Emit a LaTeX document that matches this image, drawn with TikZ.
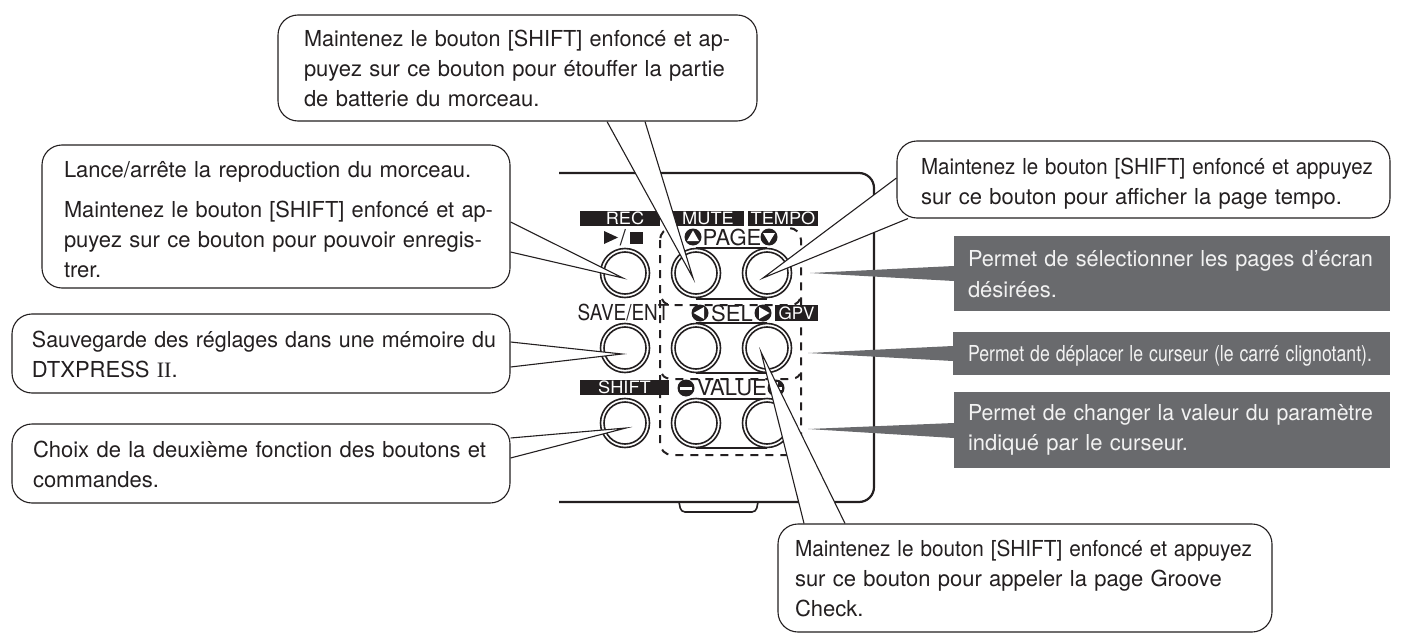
\documentclass[tikz,border=0pt]{standalone}
\usepackage{fontspec}
\usepackage{graphicx}
\setmainfont{TeX Gyre Heros}
\newfontfamily\serifII{Liberation Serif}
\definecolor{pgray}{HTML}{696A6D}
\definecolor{ptxt}{HTML}{F2F2F2}
\definecolor{ink}{HTML}{231F20}
\newsavebox\fitbox
\def\pd{20pt}
\newcommand\fl[2]{\hspace*{\pd}\sbox\fitbox{#2}\ifdim\wd\fitbox>#1pt\resizebox{#1pt}{\height}{\usebox\fitbox}\else\makebox[#1pt][s]{#2}\fi}
\newcommand\nl[1]{\hspace*{\pd}#1}
\newcommand\dn[1]{\rule{0pt}{#1pt}}
\newcommand\wide[1]{\scalebox{1.07}[1]{#1}}
\pgfdeclarelayer{back}
\pgfdeclarelayer{mid}
\pgfsetlayers{back,mid,main}
\tikzset{
  callout/.style 2 args={draw=ink,line width=1.1pt,fill=white,rounded corners=20pt,text=ink,
    text width=#1pt,minimum height=#2pt,inner xsep=0pt,inner ysep=0pt,align=left,
    font=\fontsize{22}{30}\selectfont},
  graybox/.style 2 args={fill=pgray,text=ptxt,text width=#1pt,minimum height=#2pt,
    inner xsep=0pt,inner ysep=0pt,align=left,font=\fontsize{22}{30}\selectfont},
  ptr/.style={draw=ink,line width=1.1pt,fill=white,line join=miter,miter limit=20},
  gptr/.style={fill=pgray},
  keybtn/.style={circle,draw=ink,fill=white,line width=1.6pt,minimum size=49pt,inner sep=0pt},
  keyin/.style={circle,draw=ink,line width=1.6pt,minimum size=42pt,inner sep=0pt},
  bar/.style={fill=ink,text=white,inner sep=0pt,font=\fontsize{17}{17}\selectfont},
  lab/.style={text=ink,inner sep=0pt,font=\fontsize{22}{22}\selectfont},
  dashln/.style={draw=ink,line width=2pt,dash pattern=on 8pt off 7pt},
  cbtn/.style={circle,fill=ink,minimum size=17pt,inner sep=0pt},
  panel/.style={draw=ink,line width=2.2pt}
}
\begin{document}
\begin{tikzpicture}[x=1pt,y=-1pt]
\useasboundingbox (0,0) rectangle (1409,634);
\begin{pgfonlayer}{back}
% panel
\draw[panel,rounded corners=15pt] (559,173) -- (874,173) -- (874,502) -- (559,502);
\draw[line width=1.6pt,draw=ink,rounded corners=4pt] (679,502) -- (681,512) -- (756,512) -- (758,502);
% dashed groups
\draw[dashln,rounded corners=12pt] (660,228) rectangle (801,455);
\draw[dashln] (662,299) .. controls (664,304) and (668,305) .. (674,305) -- (788,305) .. controls (794,305) and (798,304) .. (800,299);
\draw[dashln] (662,374) .. controls (664,378) and (668,379) .. (674,379) -- (788,379) .. controls (794,379) and (798,378) .. (800,374);
% links between buttons
\foreach \yy in {248,299,323,373,399,448} \draw[line width=1.4pt,draw=ink] (696,\yy) -- (767,\yy);
% buttons
\foreach \nm/\xx/\yy in {ba/625/273,bb/696/273,bc/767/273,bd/625/348,be/696/348,bf/767/348,bg/625/423,bh/696/423,bi/767/423}{
  \node[keybtn] (\nm) at (\xx,\yy) {};
  \node[keyin] (\nm i) at (\xx,\yy) {};
}
% labels
\node[bar,minimum width=80pt,minimum height=15pt] (lrec) at (620,218.5) {\hspace*{10pt}\wide{REC}};
\node[bar,minimum width=79pt,minimum height=15pt] (lmute) at (704.5,218.5) {\hspace*{7pt}\wide{MUTE}};
\node[bar,minimum width=70pt,minimum height=15pt] (ltempo) at (783,218.5) {\wide{TEMPO}};
\node[fill=white,minimum width=112pt,minimum height=20pt,inner sep=0pt] (lpagebg) at (730,236.5) {};
\node[lab] (lpage) at (732,237) {PAGE};
\node[cbtn] (cpu) at (693,237) {};
\node[cbtn] (cpd) at (769,237) {};
\fill[white] (693,230.5) -- (699,241) -- (687,241) -- cycle;
\fill[white] (769,243) -- (775,233) -- (763,233) -- cycle;
\fill[ink] (604,231) -- (618,237.5) -- (604,244) -- cycle;
\node[lab] (lslash) at (623,237.5) {/};
\fill[ink] (630,232) rectangle (643,244);
\node[lab] (lsave) at (623.5,313) {\scalebox{0.86}[1]{SAVE/ENT}};
\node[lab] (lsel) at (732,313) {SEL};
\node[cbtn] (csl) at (700,313) {};
\node[cbtn] (csr) at (763,313) {};
\fill[white] (693.5,313) -- (704,307) -- (704,319) -- cycle;
\fill[white] (769.5,313) -- (759,307) -- (759,319) -- cycle;
\node[bar,minimum width=43pt,minimum height=16pt] (lgpv) at (796.5,313) {GPV};
\node[bar,minimum width=89pt,minimum height=15pt] (lshift) at (624.5,387.5) {\wide{SHIFT}};
\node[lab] (lvalue) at (732,388) {VALUE};
\node[cbtn] (cvm) at (686,388) {};
\node[cbtn] (cvp) at (776,388) {};
\fill[white] (680,386.5) rectangle (692,389.5);
\fill[white] (770,386.5) rectangle (782,389.5);
\fill[white] (774.5,382) rectangle (777.5,394);
\end{pgfonlayer}
% callouts
\def\pd{26pt}
\node[callout={479}{106}] (ctop) at (517.5,68) {\fl{426}{Maintenez le bouton [SHIFT] enfoncé et ap-}\\ \fl{426}{puyez sur ce bouton pour étouffer la partie}\\ \nl{de batterie du morceau.}};
\def\pd{22pt}
\node[callout={468}{143}] (cplay) at (276,216.5) {\dn{22}\nl{Lance/arrête la reproduction du morceau.}\\[10pt] \fl{429}{Maintenez le bouton [SHIFT] enfoncé et ap-}\\ \fl{429}{puyez sur ce bouton pour pouvoir enregis-}\\ \nl{trer.}};
\def\pd{20pt}
\node[callout={498}{79}] (csave) at (261,353.5) {\dn{19}\fl{464}{Sauvegarde des réglages dans une mémoire du}\\ \nl{DTXPRESS {\serifII II}.}};
\def\pd{21pt}
\node[callout={498}{79}] (cshift) at (261,463.5) {\dn{18}\fl{463}{Choix de la deuxième fonction des boutons et}\\ \nl{commandes.}};
\def\pd{24pt}
\node[callout={493}{77}] (ctempo) at (1143.5,179.5) {\dn{24}\fl{452}{Maintenez le bouton [SHIFT] enfoncé et appuyez}\\ \nl{sur ce bouton pour afficher la page tempo.}};
\def\pd{17pt}
\node[callout={494}{108}] (cgroove) at (1025,578) {\fl{457}{Maintenez le bouton [SHIFT] enfoncé et appuyez}\\ \fl{457}{sur ce bouton pour appeler la page Groove}\\ \nl{Check.}};
\def\pd{14pt}
\node[graybox={436}{75}] (gpage) at (1172,273.5) {\dn{18}\fl{405}{Permet de sélectionner les pages d’écran}\\[1pt] \nl{désirées.}};
\node[graybox={437}{43}] (gcur) at (1171.5,353.5) {\dn{20}\hspace*{1pt}\fl{404}{Permet de déplacer le curseur (le carré clignotant).}};
\node[graybox={436}{76}] (gval) at (1172,430) {\fl{405}{Permet de changer la valeur du paramètre}\\ \nl{indiqué par le curseur.}};
% pointers
\coordinate (tplay) at (623,278);
\coordinate (tmute) at (693,278);
\coordinate (ttempo) at (763,278);
\coordinate (tsave) at (622,354);
\coordinate (tshift) at (626,428);
\coordinate (tgroove) at (761,352);
\coordinate (tpage) at (810,273);
\coordinate (tcur) at (808,353);
\coordinate (tval) at (808,429);
\begin{pgfonlayer}{mid}
\draw[ptr] ([xshift=89.5pt]ctop.south) -- (tmute) -- ([xshift=127.5pt]ctop.south);
\draw[ptr] ([yshift=-5.5pt]cplay.east) -- (tplay) -- ([yshift=-35.5pt]cplay.east);
\draw[ptr] ([yshift=11.5pt]csave.east) -- (tsave) -- ([yshift=-13.5pt]csave.east);
\draw[ptr] ([yshift=25.5pt]cshift.east) -- (tshift) -- ([yshift=5.5pt]cshift.east);
\draw[ptr] ([yshift=1.5pt]ctempo.west) -- (ttempo) -- ([xshift=-235.5pt]ctempo.south);
\draw[ptr] ([xshift=-221pt]cgroove.north) -- (tgroove) -- ([xshift=-180pt]cgroove.north);
\fill[gptr] ([yshift=7.5pt]gpage.west) -- (tpage) -- ([yshift=-7.5pt]gpage.west) -- cycle;
\fill[gptr] ([yshift=7.5pt]gcur.west) -- (tcur) -- ([yshift=-7.5pt]gcur.west) -- cycle;
\fill[gptr] ([yshift=7pt]gval.west) -- (tval) -- ([yshift=-8pt]gval.west) -- cycle;
\end{pgfonlayer}
\end{tikzpicture}
\end{document}
